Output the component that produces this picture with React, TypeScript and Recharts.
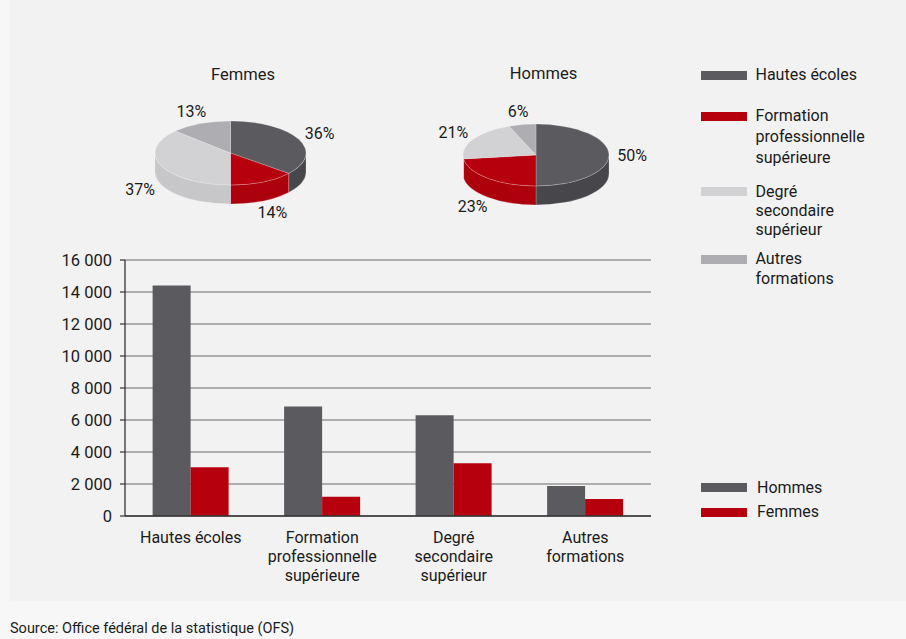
import React from 'react';
import { BarChart, Bar, XAxis, YAxis, CartesianGrid, PieChart, Pie, Cell } from 'recharts';

// ---------- data ----------
const categories = ['Hautes écoles', 'Formation professionnelle supérieure', 'Degré secondaire supérieur', 'Autres formations'];
const categoryLines = [
  ['Hautes écoles'],
  ['Formation', 'professionnelle', 'supérieure'],
  ['Degré', 'secondaire', 'supérieur'],
  ['Autres', 'formations'],
];
const hommesValues = [14400, 6850, 6300, 1880];
const femmesValues = [3050, 1200, 3300, 1070];
const femmesShares = [36, 14, 37, 13];
const hommesShares = [50, 23, 21, 6];
const yTicks = [0, 2000, 4000, 6000, 8000, 10000, 12000, 14000, 16000];
const seriesNames = ['Hommes', 'Femmes'];
const pieTitles = ['Femmes', 'Hommes'];
const sourceText = 'Source: Office fédéral de la statistique (OFS)';

// ---------- styles ----------
const FONT = 'Roboto, "Open Sans", sans-serif';
const TEXT = '#1b1b1b';
const DARK = '#5b5a5f';
const RED = '#b6000e';
const topColors = ['#5b5a5f', '#b6000e', '#d2d2d4', '#aeaeb2'];
const sideColors = ['#47464b', '#ad000d', '#c7c7c9', '#a1a1a5'];
const RATIO = 0.424;
const DEPTH = 19;
const RAD = Math.PI / 180;

const barData = categories.map((c, i) => ({ name: c, Hommes: hommesValues[i], Femmes: femmesValues[i], idx: i }));
const femmesData = categories.map((c, i) => ({ name: c, value: femmesShares[i], k: i }));
const hommesData = categories.map((c, i) => ({ name: c, value: hommesShares[i], k: i }));

function Sector3D(props: any) {
  const { cx, cy, outerRadius, startAngle, endAngle } = props;
  const k = props.payload?.k ?? props.k ?? 0;
  const rx = outerRadius;
  const ry = outerRadius * RATIO;
  const P = (a: number, dy = 0) => `${cx + rx * Math.cos(a * RAD)},${cy - ry * Math.sin(a * RAD) + dy}`;
  const s = Math.max(startAngle, endAngle);
  const e = Math.min(startAngle, endAngle);
  const large = s - e > 180 ? 1 : 0;
  const top = `M${cx},${cy} L${P(s)} A${rx},${ry} 0 ${large} 1 ${P(e)} Z`;
  const a1 = Math.min(s, 0);
  const a2 = Math.max(e, -180);
  let side: string | null = null;
  if (a1 > a2) {
    side = `M${P(a1)} A${rx},${ry} 0 0 1 ${P(a2)} L${P(a2, DEPTH)} A${rx},${ry} 0 0 0 ${P(a1, DEPTH)} Z`;
  }
  return (
    <g>
      {side && <path d={side} fill={sideColors[k]} stroke="#ffffff" strokeOpacity={0.35} strokeWidth={0.6} />}
      <path d={top} fill={topColors[k]} stroke="#ffffff" strokeOpacity={0.35} strokeWidth={0.6} />
    </g>
  );
}

function pieLabel(p: any) {
  const { cx, cy, midAngle, outerRadius, value } = p;
  const rx = outerRadius + 23;
  const ry = outerRadius * RATIO + 13;
  const sn = Math.sin(midAngle * RAD);
  const x = cx + rx * Math.cos(midAngle * RAD);
  const y = cy - ry * sn + (sn < 0 ? DEPTH : 0);
  return (
    <text x={x} y={y} textAnchor="middle" dominantBaseline="central" fontFamily={FONT} fontSize={16} fill={TEXT}>
      {`${value}%`}
    </text>
  );
}

function CatTick(props: any) {
  const { x, y, payload } = props;
  const idx = categories.indexOf(payload.value);
  const lines = categoryLines[idx] || [payload.value];
  return (
    <g>
      {lines.map((l, i) => (
        <text key={i} x={x} y={y + 19 + i * 19} textAnchor="middle" fontFamily={FONT} fontSize={16} fill={TEXT}>{l}</text>
      ))}
    </g>
  );
}

const fmt = (v: number) => (v === 0 ? '0' : `${v / 1000} 000`);

export default function App() {
  const legendPie = [
    { lines: ['Hautes écoles'], sw: 71, base: [80] },
    { lines: ['Formation', 'professionnelle', 'supérieure'], sw: 112, base: [121, 142, 163] },
    { lines: ['Degré', 'secondaire', 'supérieur'], sw: 187, base: [197, 216, 235] },
    { lines: ['Autres', 'formations'], sw: 255, base: [264, 284] },
  ];
  return (
    <div style={{ position: 'absolute', left: 0, top: 0, width: 906, height: 639, background: '#f7f7f7', overflow: 'hidden' }}>
      <div style={{ position: 'absolute', left: 10, top: 0, width: 896, height: 601, background: '#f2f2f2' }} />
      <div style={{ position: 'absolute', left: 0, top: 0 }}>
        <BarChart
          width={906}
          height={639}
          data={barData}
          margin={{ top: 260, right: 255, bottom: 43, left: 65 }}
          barCategoryGap="21%"
          barGap={0}
        >
          <CartesianGrid vertical={false} stroke="#6b6b6b" strokeWidth={1.2} />
          <XAxis
            xAxisId="edge"
            type="number"
            domain={[0, 4]}
            ticks={[0, 1, 2, 3, 4]}
            tick={false}
            axisLine={false}
            tickLine={{ stroke: '#333', strokeWidth: 1.3 }}
            tickSize={5}
            height={0}
            allowDataOverflow
          />
          <XAxis
            xAxisId="cat"
            dataKey="name"
            height={80}
            tickLine={false}
            axisLine={{ stroke: '#333', strokeWidth: 1.3 }}
            tick={<CatTick />}
            interval={0}
          />
          <YAxis
            width={60}
            domain={[0, 16000]}
            ticks={yTicks}
            tickFormatter={fmt}
            axisLine={{ stroke: '#333', strokeWidth: 1.3 }}
            tickLine={{ stroke: '#333', strokeWidth: 1.2 }}
            tickSize={5}
            tickMargin={8}
            tick={{ fontFamily: FONT, fontSize: 16.5, fill: TEXT }}
            interval={0}
          />
          <Bar xAxisId="cat" dataKey="Hommes" fill={DARK} isAnimationActive={false} />
          <Bar xAxisId="cat" dataKey="Femmes" fill={RED} isAnimationActive={false} />
        </BarChart>
      </div>
      <div style={{ position: 'absolute', left: 0, top: 0 }}>
        <PieChart width={906} height={250} margin={{ top: 0, right: 0, bottom: 0, left: 0 }}>
          <Pie
            data={femmesData}
            dataKey="value"
            nameKey="name"
            cx={230.5}
            cy={153}
            outerRadius={75.5}
            startAngle={90}
            endAngle={-270}
            stroke="none"
            shape={Sector3D}
            inactiveShape={Sector3D}
            activeShape={Sector3D}
            label={pieLabel}
            labelLine={false}
            isAnimationActive={false}
          >
            {femmesData.map((d) => <Cell key={d.k} fill={topColors[d.k]} />)}
          </Pie>
          <Pie
            data={hommesData}
            dataKey="value"
            nameKey="name"
            cx={536}
            cy={155}
            outerRadius={73}
            startAngle={90}
            endAngle={-270}
            stroke="none"
            shape={Sector3D}
            inactiveShape={Sector3D}
            activeShape={Sector3D}
            label={pieLabel}
            labelLine={false}
            isAnimationActive={false}
          >
            {hommesData.map((d) => <Cell key={d.k} fill={topColors[d.k]} />)}
          </Pie>
        </PieChart>
      </div>
      <svg width={906} height={639} style={{ position: 'absolute', left: 0, top: 0, pointerEvents: 'none' }}>
        <g fontFamily={FONT} fill={TEXT}>
          <text x={243} y={79.5} fontSize={16.5} textAnchor="middle">{pieTitles[0]}</text>
          <text x={543.5} y={79} fontSize={16.5} textAnchor="middle">{pieTitles[1]}</text>
          {legendPie.map((it, i) => (
            <g key={i}>
              <rect x={701} y={it.sw} width={46} height={9} fill={topColors[i]} />
              {it.lines.map((l, j) => (
                <text key={j} x={755.5} y={it.base[j]} fontSize={16}>{l}</text>
              ))}
            </g>
          ))}
          <rect x={701} y={483} width={46} height={9} fill={DARK} />
          <text x={757} y={492.5} fontSize={16}>{seriesNames[0]}</text>
          <rect x={701} y={508} width={46} height={9} fill={RED} />
          <text x={757} y={517} fontSize={16}>{seriesNames[1]}</text>
          <text x={10} y={633} fontSize={14.5}>{sourceText}</text>
        </g>
      </svg>
    </div>
  );
}
